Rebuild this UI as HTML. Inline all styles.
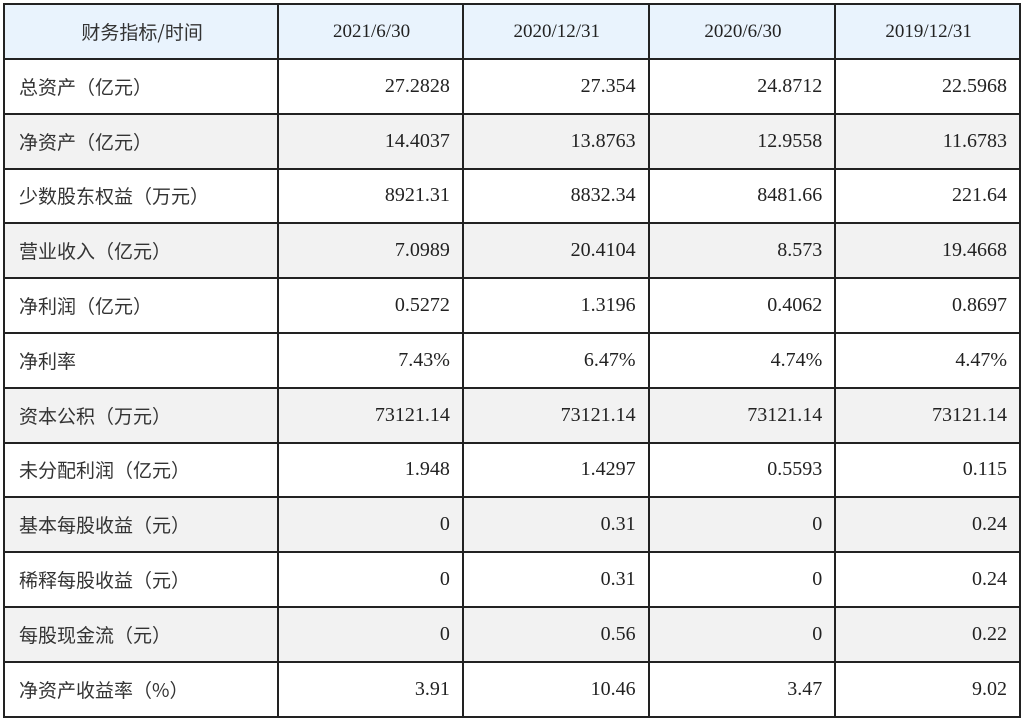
<!DOCTYPE html>
<html><head><meta charset="utf-8"><style>
body{margin:0;background:#fff;width:1024px;height:720px;overflow:hidden}
table{position:absolute;left:3px;top:3px;border-collapse:collapse;width:1018px;font-family:"Liberation Serif","Noto Sans CJK SC",serif;font-size:20px;color:#222}
td{border:2px solid #222;height:54.8px;padding:0 12px 0 14px;text-align:right;box-sizing:border-box}
td:first-child{text-align:left;font-family:"Noto Sans CJK SC","Liberation Sans",sans-serif;font-size:19px;color:#333}
tr.h td{background:#e9f3fd;text-align:center;font-size:19px;height:55px}
tr.h td:first-child{text-align:center}
tr.g td{background:#f2f2f2}
</style></head><body>
<table>
<colgroup><col style="width:275px"><col style="width:185px"><col style="width:186px"><col style="width:187px"><col style="width:185px"></colgroup>
<tr class="h"><td>财务指标/时间</td><td>2021/6/30</td><td>2020/12/31</td><td>2020/6/30</td><td>2019/12/31</td></tr>
<tr><td>总资产（亿元）</td><td>27.2828</td><td>27.354</td><td>24.8712</td><td>22.5968</td></tr>
<tr class="g"><td>净资产（亿元）</td><td>14.4037</td><td>13.8763</td><td>12.9558</td><td>11.6783</td></tr>
<tr><td>少数股东权益（万元）</td><td>8921.31</td><td>8832.34</td><td>8481.66</td><td>221.64</td></tr>
<tr class="g"><td>营业收入（亿元）</td><td>7.0989</td><td>20.4104</td><td>8.573</td><td>19.4668</td></tr>
<tr><td>净利润（亿元）</td><td>0.5272</td><td>1.3196</td><td>0.4062</td><td>0.8697</td></tr>
<tr><td>净利率</td><td>7.43%</td><td>6.47%</td><td>4.74%</td><td>4.47%</td></tr>
<tr class="g"><td>资本公积（万元）</td><td>73121.14</td><td>73121.14</td><td>73121.14</td><td>73121.14</td></tr>
<tr><td>未分配利润（亿元）</td><td>1.948</td><td>1.4297</td><td>0.5593</td><td>0.115</td></tr>
<tr class="g"><td>基本每股收益（元）</td><td>0</td><td>0.31</td><td>0</td><td>0.24</td></tr>
<tr><td>稀释每股收益（元）</td><td>0</td><td>0.31</td><td>0</td><td>0.24</td></tr>
<tr class="g"><td>每股现金流（元）</td><td>0</td><td>0.56</td><td>0</td><td>0.22</td></tr>
<tr><td>净资产收益率（%）</td><td>3.91</td><td>10.46</td><td>3.47</td><td>9.02</td></tr>
</table>
</body></html>
